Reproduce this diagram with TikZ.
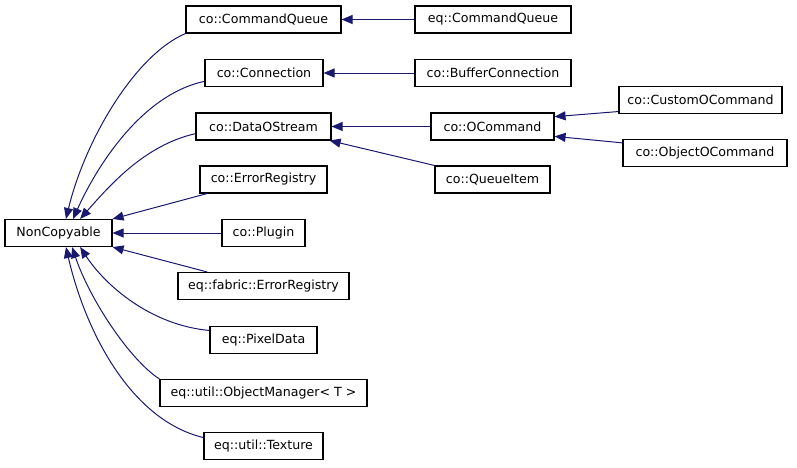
\documentclass[tikz,border=0pt]{standalone}
\usepackage{fontspec}
\setmainfont{DejaVu Sans}
\usetikzlibrary{arrows.meta}
\definecolor{edgeblue}{HTML}{191970}

\tikzset{
  cls/.style={draw, line width=1.1pt, minimum height=27pt, inner sep=0pt, font=\fontsize{12.6}{15}\selectfont},
  inh/.style={edgeblue, line width=1pt, {Triangle[length=11pt,width=9pt]}-}
}

\begin{document}
\begin{tikzpicture}[x=1pt,y=-1pt]
 	\useasboundingbox (0,0) rectangle (797,467);
 	\node[cls, minimum width=107pt] (noncopy) at (58.5,233) {NonCopyable};
 	\node[cls, minimum width=155pt] (cocq) at (263.5,19.5) {co::CommandQueue};
 	\node[cls, minimum width=118pt] (coconn) at (264,73) {co::Connection};
 	\node[cls, minimum width=135pt] (codos) at (263.5,126.5) {co::DataOStream};
 	\node[cls, minimum width=127pt] (coerr) at (263.5,179.5) {co::ErrorRegistry};
 	\node[cls, minimum width=83pt] (coplug) at (263.5,233) {co::Plugin};
 	\node[cls, minimum width=171pt] (fabricerr) at (263.5,286) {eq::fabric::ErrorRegistry};
 	\node[cls, minimum width=107pt] (pixdata) at (263.5,340) {eq::PixelData};
 	\node[cls, minimum width=207pt] (objmgr) at (263.5,393) {eq::util::ObjectManager< T >};
 	\node[cls, minimum width=119pt] (texture) at (263.5,446) {eq::util::Texture};
 	\node[cls, minimum width=156pt] (eqcq) at (493,19.5) {eq::CommandQueue};
 	\node[cls, minimum width=156pt] (bufconn) at (493,73) {co::BufferConnection};
 	\node[cls, minimum width=123pt] (ocmd) at (492.5,126.5) {co::OCommand};
 	\node[cls, minimum width=115pt] (qitem) at (492.5,179.5) {co::QueueItem};
 	\node[cls, minimum width=163pt] (custocmd) at (700.5,100) {co::CustomOCommand};
 	\node[cls, minimum width=164pt] (objocmd) at (705,153) {co::ObjectOCommand};

 	% NonCopyable and its children
 	\draw[inh] (noncopy.62) .. controls (85,140) and (135,55) .. (cocq.south west);
 	\draw[inh] (noncopy.44) .. controls (95,170) and (140,95) .. (coconn.-172);
 	\draw[inh] (noncopy.33) .. controls (110,185) and (145,145) .. (codos.-174);
 	\draw[inh] (noncopy.north east) -- (coerr.-166);
 	\draw[inh] (noncopy.east) -- (coplug.west);
 	\draw[inh] (noncopy.south east) -- (fabricerr.166);
 	\draw[inh] (noncopy.-33) .. controls (105,285) and (150,325) .. (pixdata.170);
 	\draw[inh] (noncopy.-46) .. controls (90,300) and (130,360) .. (objmgr.north west);
 	\draw[inh] (noncopy.-62) .. controls (85,330) and (130,420) .. (texture.172);

 	% second level
 	\draw[inh] (cocq.east) -- (eqcq.west);
 	\draw[inh] (coconn.east) -- (bufconn.west);
 	\draw[inh] (codos.east) -- (ocmd.west);
 	\draw[inh] (codos.-12) -- (qitem.north west);
 	\draw[inh] (ocmd.9) -- (custocmd.188);
 	\draw[inh] (ocmd.-9) -- (objocmd.173);
\end{tikzpicture}
\end{document}
